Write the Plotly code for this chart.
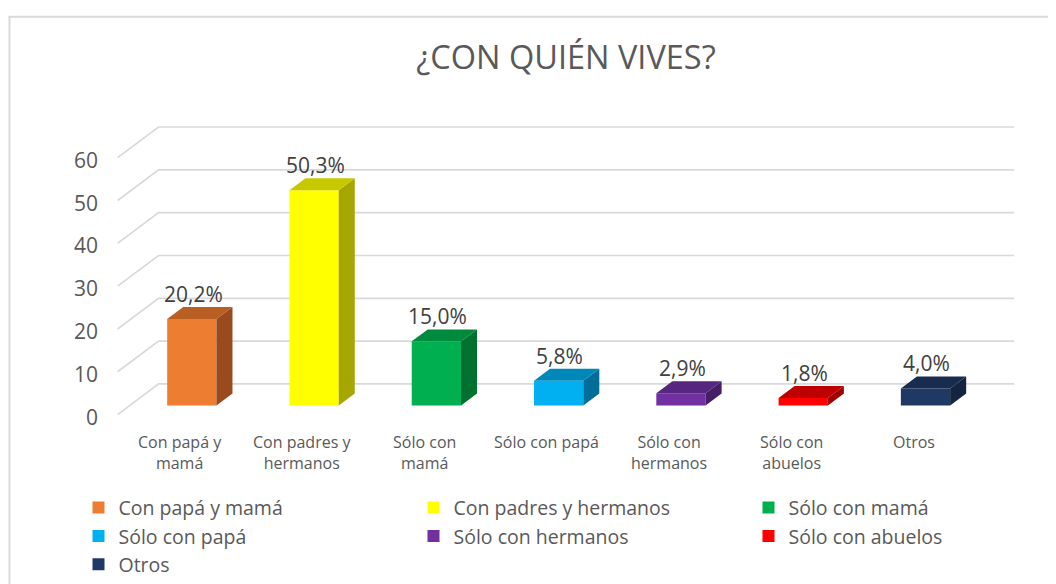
import plotly.graph_objects as go

categories = ["Con papá y mamá", "Con padres y hermanos", "Sólo con mamá",
              "Sólo con papá", "Sólo con hermanos", "Sólo con abuelos", "Otros"]
axis_labels = ["Con papá y<br>mamá", "Con padres y<br>hermanos", "Sólo con<br>mamá",
               "Sólo con papá", "Sólo con<br>hermanos", "Sólo con<br>abuelos", "Otros"]
values = [20.2, 50.3, 15.0, 5.8, 2.9, 1.8, 4.0]
value_labels = ["20,2%", "50,3%", "15,0%", "5,8%", "2,9%", "1,8%", "4,0%"]
front_colors = ["#ED7D31", "#FFFF00", "#00B050", "#00B0F0", "#7030A0", "#FF0000", "#1F3864"]
top_colors = ["#BA5F24", "#C8C800", "#008A3E", "#0088BA", "#57267E", "#C00000", "#182C50"]
side_colors = ["#994B1D", "#A6A600", "#00712F", "#006E99", "#461E67", "#A00000", "#132441"]
y_ticks = [0, 10, 20, 30, 40, 50, 60]

W, H = 1056, 584
OFF = 8  # page body margin
L, R = 115.5 - OFF, 40.4 + OFF
T, B = 123.0 - OFF, 156.5 + OFF
XR = [-0.62, 6.74]
YR = [-5, 66]

BAR_W = 0.403
DDX, DDY = 0.131, 2.8          # bar depth offset (data units)
FL_X, BL_X, RX = -0.607, -0.272, 6.725   # floor/wall x positions
FRONT_DY, BACK_DY = -2.1, 5.06           # floor front / back wall offsets

grid_color = "#D9D9D9"
text_color = "#595959"
font = "Open Sans"

fig = go.Figure()

# gridlines (3D wall + floor) as below-layer shapes in data coordinates
for v in y_ticks:
    path = "M {:.4f},{:.4f} L {:.4f},{:.4f} L {:.4f},{:.4f}".format(
        FL_X, v + FRONT_DY, BL_X, v + BACK_DY, RX, v + BACK_DY)
    fig.add_shape(type="path", xref="x", yref="y", path=path, layer="below",
                  line=dict(color=grid_color, width=1.7))

# bars
for i, (cat, v) in enumerate(zip(categories, values)):
    xl, xr = i - BAR_W / 2, i + BAR_W / 2
    fig.add_trace(go.Bar(
        x=[i], y=[v], base=0, width=BAR_W, name=cat,
        marker=dict(color=front_colors[i], line=dict(width=0)),
        hoverinfo="name+y"))
    fig.add_trace(go.Scatter(
        x=[xr, xr + DDX, xr + DDX, xr, xr], y=[0, DDY, v + DDY, v, 0],
        mode="lines", fill="toself", fillcolor=side_colors[i],
        line=dict(width=0, color=side_colors[i]), showlegend=False, hoverinfo="skip"))
    fig.add_trace(go.Scatter(
        x=[xl, xl + DDX, xr + DDX, xr, xl], y=[v, v + DDY, v + DDY, v, v],
        mode="lines", fill="toself", fillcolor=top_colors[i],
        line=dict(width=0, color=top_colors[i]), showlegend=False, hoverinfo="skip"))
    fig.add_annotation(x=i + 0.01, y=v + DDY, text=value_labels[i], showarrow=False,
                       yanchor="bottom", yshift=-3,
                       font=dict(family=font, size=21, color="#404040"))
    fig.add_annotation(x=i - 0.098, y=FRONT_DY, text=axis_labels[i], showarrow=False,
                       yanchor="top", yshift=-14,
                       font=dict(family=font, size=16, color=text_color))

# y tick labels
for v in y_ticks:
    fig.add_annotation(x=FL_X, y=v + FRONT_DY, text=str(v), showarrow=False,
                       xanchor="right", xshift=-18, yshift=-2,
                       font=dict(family=font, size=21, color=text_color))

pw = W - L - R
ph = H - T - B
def px_x(p):
    return (p - L) / pw
def px_y(p):
    return (H - B - p) / ph

# chart border (left and top edges visible)
fig.add_shape(type="line", xref="paper", yref="paper",
              x0=px_x(1), x1=px_x(1), y0=px_y(8.5), y1=px_y(600),
              line=dict(color=grid_color, width=2))
fig.add_shape(type="line", xref="paper", yref="paper",
              x0=px_x(0), x1=px_x(1070), y0=px_y(8.5), y1=px_y(8.5),
              line=dict(color=grid_color, width=2))

fig.update_layout(
    width=W, height=H,
    margin=dict(l=L, r=R, t=T, b=B, autoexpand=False),
    paper_bgcolor="white", plot_bgcolor="white",
    barmode="overlay",
    title=dict(text="¿CON QUIÉN VIVES?", x=(566 - OFF) / W, xanchor="center",
               y=1 - (58 - OFF) / H, yanchor="middle", xref="container", yref="container",
               font=dict(family=font, size=32.5, color=text_color)),
    xaxis=dict(range=XR, visible=False, fixedrange=True),
    yaxis=dict(range=YR, visible=False, fixedrange=True),
    showlegend=True,
    legend=dict(orientation="h", xref="paper", yref="paper",
                x=px_x(70), y=px_y(481), xanchor="left", yanchor="top",
                entrywidth=290, entrywidthmode="pixels",
                font=dict(family=font, size=19.5, color=text_color),
                bgcolor="rgba(0,0,0,0)", tracegroupgap=0, itemsizing="constant"),
)

fig.write_html("out.html")
